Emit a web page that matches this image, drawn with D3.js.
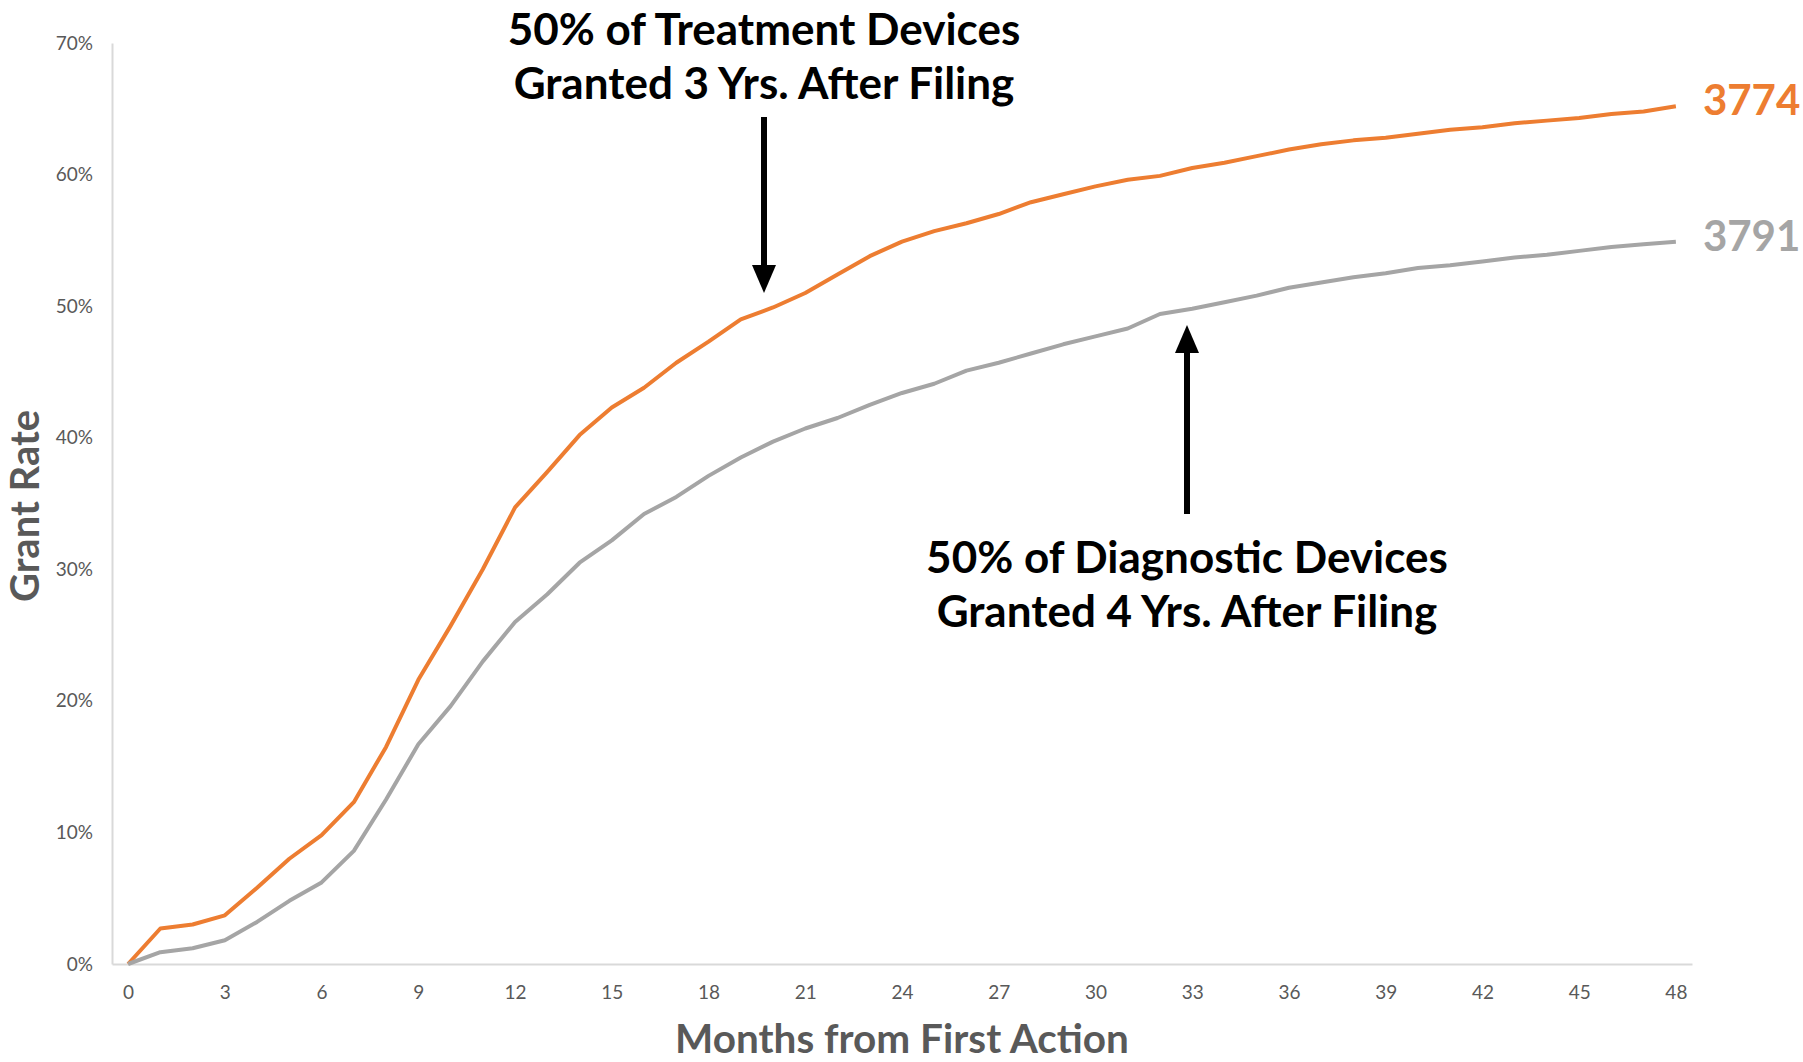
<!DOCTYPE html>
<html>
<head>
<meta charset="utf-8">
<script src="https://cdn.jsdelivr.net/npm/d3@7"></script>
<style>
  body { margin: 0; background: #fff; }
  svg { display: block; }
</style>
</head>
<body>
<script>
// Data

var months = [0, 1, 2, 3, 4, 5, 6, 7, 8, 9, 10, 11, 12, 13, 14, 15, 16, 17, 18, 19, 20,
  21, 22, 23, 24, 25, 26, 27, 28, 29, 30, 31, 32, 33, 34, 35, 36, 37, 38, 39, 40,
  41, 42, 43, 44, 45, 46, 47, 48];

// art unit 3774 - treatment devices
var treatment = [0, 2.7, 3.0, 3.7, 5.8, 8.0, 9.8, 12.3, 16.5, 21.6, 25.7, 30.0, 34.7,
  37.4, 40.2, 42.3, 43.8, 45.7, 47.3, 49.0, 49.9, 51.0, 52.4, 53.8, 54.9, 55.7, 56.3,
  57.0, 57.9, 58.5, 59.1, 59.6, 59.9, 60.5, 60.9, 61.4, 61.9, 62.3, 62.6, 62.8, 63.1,
  63.4, 63.6, 63.9, 64.1, 64.3, 64.6, 64.8, 65.2];

// art unit 3791 - diagnostic devices
var diagnostic = [0, 0.9, 1.2, 1.8, 3.2, 4.8, 6.2, 8.6, 12.5, 16.7, 19.6, 23.0, 26.0,
  28.1, 30.5, 32.2, 34.2, 35.5, 37.1, 38.5, 39.7, 40.7, 41.5, 42.5, 43.4, 44.1, 45.1,
  45.7, 46.4, 47.1, 47.7, 48.3, 49.4, 49.8, 50.3, 50.8, 51.4, 51.8, 52.2, 52.5, 52.9,
  53.1, 53.4, 53.7, 53.9, 54.2, 54.5, 54.7, 54.9];

var xTicks = [0, 3, 6, 9, 12, 15, 18, 21, 24, 27, 30, 33, 36, 39, 42, 45, 48];
var yTicks = [0, 10, 20, 30, 40, 50, 60, 70];

var seriesNames = ["3774", "3791"];
var seriesColors = ["#ED7D31", "#A5A5A5"];

var w = 1803;
var h = 1062;
var font = "Lato, 'Open Sans', sans-serif";

/*
-----SVG-----
*/
var svg = d3.select("body")
  .append("svg")
  .attr("width", w)
  .attr("height", h);

var x = d3.scalePoint()
  .domain(months)
  .range([112, 1692])
  .padding(0.5);

var y = d3.scaleLinear()
  .domain([0, 70])
  .range([964, 43]);

/*
-----Axes-----
*/
svg.append("g")
  .attr("transform", "translate(112,0)")
  .call(d3.axisLeft(y)
    .tickValues(yTicks)
    .tickFormat(function(d) { return d + "%"; })
    .tickSize(0)
    .tickPadding(19));

svg.append("g")
  .attr("transform", "translate(0,964)")
  .call(d3.axisBottom(x)
    .tickValues(xTicks)
    .tickSize(0)
    .tickPadding(22));

svg.selectAll(".domain")
  .attr("stroke", "#D9D9D9")
  .attr("stroke-width", 2);

svg.selectAll(".tick text")
  .attr("fill", "#595959")
  .style("font-family", font)
  .style("font-size", "19px");

svg.append("text")
  .attr("transform", "translate(39,506) rotate(-90)")
  .attr("text-anchor", "middle")
  .attr("fill", "#595959")
  .style("font-family", font)
  .style("font-weight", "bold")
  .style("font-size", "40px")
  .text("Grant Rate");

svg.append("text")
  .attr("x", 902)
  .attr("y", 1053)
  .attr("text-anchor", "middle")
  .attr("fill", "#595959")
  .style("font-family", font)
  .style("font-weight", "bold")
  .style("font-size", "40.5px")
  .text("Months from First Action");

/*
-----Lines-----
*/
var series = [treatment, diagnostic];

var line = d3.line()
  .x(function(d, i) { return x(months[i]); })
  .y(function(d) { return y(d); });

svg.selectAll(".series")
  .data(series)
  .enter()
  .append("path")
  .attr("class", "series")
  .attr("d", line)
  .attr("fill", "none")
  .attr("stroke", function(d, i) { return seriesColors[i]; })
  .attr("stroke-width", 4)
  .attr("stroke-linejoin", "round");

// end labels
svg.selectAll(".endlabel")
  .data(series)
  .enter()
  .append("text")
  .attr("class", "endlabel")
  .attr("x", x(48) + 27)
  .attr("y", function(d) { return y(d[d.length - 1]) + 9; })
  .attr("fill", function(d, i) { return seriesColors[i]; })
  .style("font-family", font)
  .style("font-weight", "bold")
  .style("font-size", "42px")
  .text(function(d, i) { return seriesNames[i]; });

/*
-----Annotations-----
*/
function note(cx, lines, baseline) {
  svg.append("text")
    .attr("text-anchor", "middle")
    .attr("fill", "#000")
    .style("font-family", font)
    .style("font-weight", "bold")
    .style("font-size", "44px")
    .selectAll("tspan")
    .data(lines)
    .enter()
    .append("tspan")
    .attr("x", cx)
    .attr("y", function(d, i) { return baseline + i * 54; })
    .text(function(d) { return d; });
}

function arrow(cx, from, to) {
  var dir = to > from ? 1 : -1;
  var headBase = to - dir * 28;
  svg.append("line")
    .attr("x1", cx)
    .attr("x2", cx)
    .attr("y1", from)
    .attr("y2", headBase)
    .attr("stroke", "#000")
    .attr("stroke-width", 6);
  svg.append("path")
    .attr("d", "M" + (cx - 12) + "," + headBase + "L" + (cx + 12) + "," + headBase + "L" + cx + "," + to + "Z")
    .attr("fill", "#000");
}

note(764, ["50% of Treatment Devices", "Granted 3 Yrs. After Filing"], 45);
arrow(764, 117, 293);

note(1187, ["50% of Diagnostic Devices", "Granted 4 Yrs. After Filing"], 573);
arrow(1187, 514, 325);
</script>
</body>
</html>
